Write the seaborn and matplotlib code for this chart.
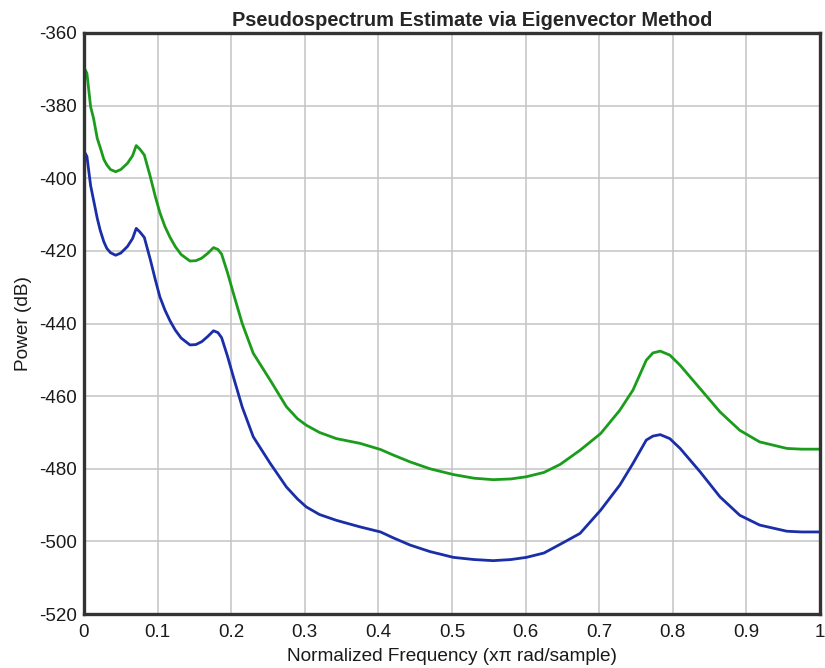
import numpy as np
import pandas as pd
import matplotlib
matplotlib.use("Agg")
import matplotlib.pyplot as plt
import seaborn as sns

# Normalized frequency (x pi rad/sample)
freq = [0.000, 0.004, 0.009, 0.013, 0.018, 0.022, 0.027, 0.031, 0.036, 0.043,
        0.050, 0.059, 0.066, 0.071, 0.076, 0.082, 0.090, 0.097, 0.103, 0.110,
        0.117, 0.124, 0.132, 0.144, 0.152, 0.160, 0.168, 0.176, 0.182, 0.187,
        0.195, 0.203, 0.215, 0.230, 0.253, 0.275, 0.290, 0.302, 0.320, 0.343,
        0.375, 0.403, 0.420, 0.443, 0.470, 0.502, 0.530, 0.556, 0.580, 0.601,
        0.625, 0.647, 0.674, 0.702, 0.728, 0.746, 0.764, 0.773, 0.783, 0.796,
        0.810, 0.837, 0.864, 0.891, 0.918, 0.955, 0.975, 1.000]

# Green series (dB)
green = [-369.5, -371.1, -380.3, -383.5, -389.0, -391.5, -394.8, -396.3, -397.6, -398.2,
         -397.6, -395.9, -393.8, -391.0, -392.0, -393.6, -399.5, -405.1, -409.4, -413.3,
         -416.3, -418.8, -421.0, -422.8, -422.7, -422.0, -420.7, -419.1, -419.6, -420.9,
         -426.0, -431.7, -440.0, -448.2, -455.6, -462.9, -466.2, -468.0, -470.0, -471.7,
         -473.0, -474.7, -476.2, -478.1, -480.0, -481.6, -482.6, -483.0, -482.8, -482.2,
         -481.0, -478.8, -474.9, -470.3, -463.9, -458.3, -450.1, -448.1, -447.6, -448.7,
         -451.5, -457.9, -464.3, -469.4, -472.6, -474.4, -474.6, -474.6]

# Blue series (dB)
blue = [-392.5, -394.0, -402.0, -406.0, -411.0, -414.3, -417.5, -419.3, -420.5, -421.2,
        -420.6, -418.8, -416.6, -413.8, -414.8, -416.3, -422.3, -428.0, -432.6, -436.3,
        -439.3, -441.8, -444.0, -445.9, -445.8, -445.0, -443.6, -442.0, -442.5, -443.9,
        -449.0, -454.7, -463.0, -471.2, -478.5, -485.0, -488.3, -490.5, -492.6, -494.2,
        -496.0, -497.4, -499.0, -501.0, -502.8, -504.4, -505.0, -505.3, -505.0, -504.4,
        -503.2, -500.8, -497.8, -491.4, -484.5, -478.5, -472.1, -471.0, -470.6, -471.7,
        -474.4, -480.8, -487.7, -492.8, -495.5, -497.2, -497.4, -497.4]

xticks = [0, 0.1, 0.2, 0.3, 0.4, 0.5, 0.6, 0.7, 0.8, 0.9, 1]
xticklabels = ["0", "0.1", "0.2", "0.3", "0.4", "0.5", "0.6", "0.7", "0.8", "0.9", "1"]
yticks = [-520, -500, -480, -460, -440, -420, -400, -380, -360]
yticklabels = ["-520", "-500", "-480", "-460", "-440", "-420", "-400", "-380", "-360"]

sns.set_style("whitegrid")
plt.rcParams['font.family'] = ['Liberation Sans', 'DejaVu Sans']
plt.rcParams['axes.unicode_minus'] = False

df = pd.concat([
    pd.DataFrame({"freq": freq, "power": green, "series": "green"}),
    pd.DataFrame({"freq": freq, "power": blue, "series": "blue"}),
])

fig = plt.figure(figsize=(8.25, 6.68), dpi=100)
ax = fig.add_axes([0.1018, 0.0808, 0.8921, 0.8698])

sns.lineplot(data=df, x="freq", y="power", hue="series",
             palette={"green": "#1c9c1c", "blue": "#1a2ea8"},
             linewidth=2.0, legend=False, ax=ax, sort=False,
             estimator=None)

ax.set_xlim(0, 1)
ax.set_ylim(-520, -360)
ax.set_xticks(xticks)
ax.set_xticklabels(xticklabels)
ax.set_yticks(yticks)
ax.set_yticklabels(yticklabels)
ax.grid(True, color="#c4c4c4", linewidth=1.1)
ax.tick_params(axis="both", length=0, labelsize=13.5, colors="#1a1a1a")
ax.tick_params(axis="y", pad=5)
ax.tick_params(axis="x", pad=7)
for s in ax.spines.values():
    s.set_visible(True)
    s.set_color("#333333")
    s.set_linewidth(2.4)

ax.set_xlabel("Normalized Frequency (x\u03c0 rad/sample)", fontsize=13.7, labelpad=5, color="#1a1a1a")
ax.set_ylabel("Power (dB)", fontsize=13.7, labelpad=5, color="#1a1a1a")
ax.set_title("Pseudospectrum Estimate via Eigenvector Method", fontsize=14.4,
             fontweight="bold", pad=5, x=0.527)

fig.savefig("out.png", dpi=100)
